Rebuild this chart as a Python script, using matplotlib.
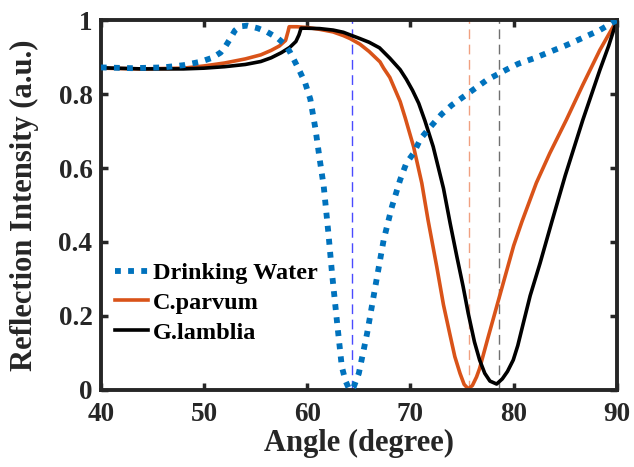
import matplotlib
matplotlib.use("Agg")
import matplotlib.pyplot as plt

# reflection curves (angle in degrees, normalised intensity)
water_ang = [40, 43, 46, 48, 49.6, 50.8, 51.6, 52.1, 52.5, 53.0, 53.5, 54.2, 55.2, 56.1,
             57.1, 57.8, 58.3, 58.8, 59.3, 59.8, 60.3, 60.8, 61.2, 61.6, 62.05, 62.4, 62.9,
             63.35, 63.7, 64.0, 64.25, 64.5, 64.8, 65.0, 65.8, 66.6, 67.4, 68.2, 69.0, 69.6,
             70.3, 71.0, 71.9, 73.0, 74.0, 75.8, 77.4, 79.3, 80.45, 81.9, 83.5, 85.1, 86.7,
             88.35, 90]
water_val = [0.872, 0.870, 0.872, 0.878, 0.887, 0.898, 0.912, 0.930, 0.948, 0.972, 0.983,
             0.985, 0.978, 0.968, 0.952, 0.935, 0.915, 0.888, 0.860, 0.830, 0.786, 0.705,
             0.625, 0.550, 0.424, 0.316, 0.180, 0.063, 0.025, 0.006, 0.0, 0.008, 0.030,
             0.045, 0.153, 0.280, 0.405, 0.495, 0.568, 0.613, 0.640, 0.680, 0.710, 0.745,
             0.770, 0.806, 0.838, 0.866, 0.882, 0.896, 0.914, 0.932, 0.952, 0.973, 1.0]

parvum_ang = [40, 44, 48, 50, 52, 54, 55.5, 56.5, 57.3, 57.9, 58.15, 58.25, 59, 60, 61.2,
              62.5, 63.5, 64.15, 65.1, 66.0, 67.05, 67.4, 68.0, 69.0, 69.5, 70.3, 71.1, 71.7,
              72.55, 73.2, 73.8, 74.3, 74.8, 75.2, 75.6, 76.0, 76.4, 76.7, 77.5, 78.35,
              79.1, 80.0, 80.8, 81.6, 82.2, 83.5, 85.1, 86.7, 88.35, 90]
parvum_val = [0.870, 0.868, 0.870, 0.876, 0.884, 0.895, 0.906, 0.918, 0.930, 0.945, 0.970,
              0.982, 0.982, 0.980, 0.975, 0.968, 0.958, 0.950, 0.935, 0.915, 0.887, 0.870,
              0.845, 0.780, 0.735, 0.658, 0.559, 0.460, 0.333, 0.230, 0.153, 0.090, 0.045,
              0.015, 0.003, 0.012, 0.035, 0.058, 0.140, 0.225, 0.300, 0.390, 0.455, 0.515,
              0.560, 0.640, 0.730, 0.825, 0.919, 1.0]

lamblia_ang = [40, 44, 48, 50, 52, 54, 55.5, 56.5, 57.5, 58.3, 58.9, 59.2, 59.4, 60, 61.2,
               62.5, 63.5, 64.15, 65.1, 66.0, 67.0, 68.0, 69.0, 69.6, 70.2, 70.8, 71.4, 72.2,
               73.2, 73.85, 74.5, 75.1, 75.6, 76.2, 76.7, 77.2, 77.7, 78.35, 78.9, 79.4,
               79.96, 80.4, 80.93, 81.6, 82.55, 83.7, 85.0, 86.7, 88.35, 89.2, 90]
lamblia_val = [0.871, 0.868, 0.868, 0.870, 0.874, 0.880, 0.888, 0.898, 0.912, 0.926, 0.942,
               0.960, 0.978, 0.978, 0.977, 0.973, 0.967, 0.960, 0.950, 0.940, 0.925, 0.897,
               0.866, 0.840, 0.810, 0.775, 0.728, 0.658, 0.545, 0.450, 0.360, 0.280, 0.207,
               0.130, 0.081, 0.045, 0.024, 0.016, 0.030, 0.050, 0.081, 0.120, 0.180, 0.255,
               0.342, 0.455, 0.580, 0.730, 0.865, 0.930, 1.0]

# resonance angles marked with thin dashed lines
dip_angles = [64.35, 75.7, 78.6]
dip_colors = ["#4a4aff", "#f0a080", "#707070"]

labels = ["Drinking Water", "C.parvum", "G.lamblia"]
xticks = [40, 50, 60, 70, 80, 90]
yticks = [0, 0.2, 0.4, 0.6, 0.8, 1]
yticklabels = ["0", "0.2", "0.4", "0.6", "0.8", "1"]

plt.rcParams["font.family"] = ["Liberation Serif", "DejaVu Serif"]
plt.rcParams["font.weight"] = "bold"
dark = "#262626"

fig = plt.figure(figsize=(6.34, 4.67), dpi=100)
ax = fig.add_axes([0.159, 0.165, 0.814, 0.792])

for a, c in zip(dip_angles, dip_colors):
    ax.plot([a, a], [0, 1], color=c, lw=1.0, ls=(0, (7, 4)), zorder=1)

ax.plot(water_ang, water_val, color="#0072BD", lw=4.2, ls=(0, (1, 1.25)),
        dash_capstyle="butt", label=labels[0], zorder=3)
ax.plot(parvum_ang, parvum_val, color="#D95319", lw=2.6, label=labels[1], zorder=2)
ax.plot(lamblia_ang, lamblia_val, color="black", lw=2.6, label=labels[2], zorder=2)

ax.set_xlim(40, 90); ax.set_ylim(0, 1)
ax.set_xticks(xticks)
ax.set_yticks(yticks); ax.set_yticklabels(yticklabels)
ax.tick_params(direction="in", length=5, width=2.5, top=True, right=True,
               labelsize=19.5, colors=dark)
ax.tick_params(axis="x", pad=9)
ax.tick_params(axis="y", pad=6)
for s in ax.spines.values():
    s.set_linewidth(2.8); s.set_color(dark)
ax.set_xlabel("Angle (degree)", fontsize=22, fontweight="bold", color=dark, labelpad=1)
ax.set_ylabel("Reflection Intensity (a.u.)", fontsize=22, fontweight="bold", color=dark, labelpad=14)

ax.legend(loc="upper left", bbox_to_anchor=(0.0, 0.385), frameon=False, fontsize=17.5,
          handlelength=1.35, handletextpad=0.2, labelspacing=0.32, borderaxespad=0.2)

fig.savefig("out.png", dpi=100)
